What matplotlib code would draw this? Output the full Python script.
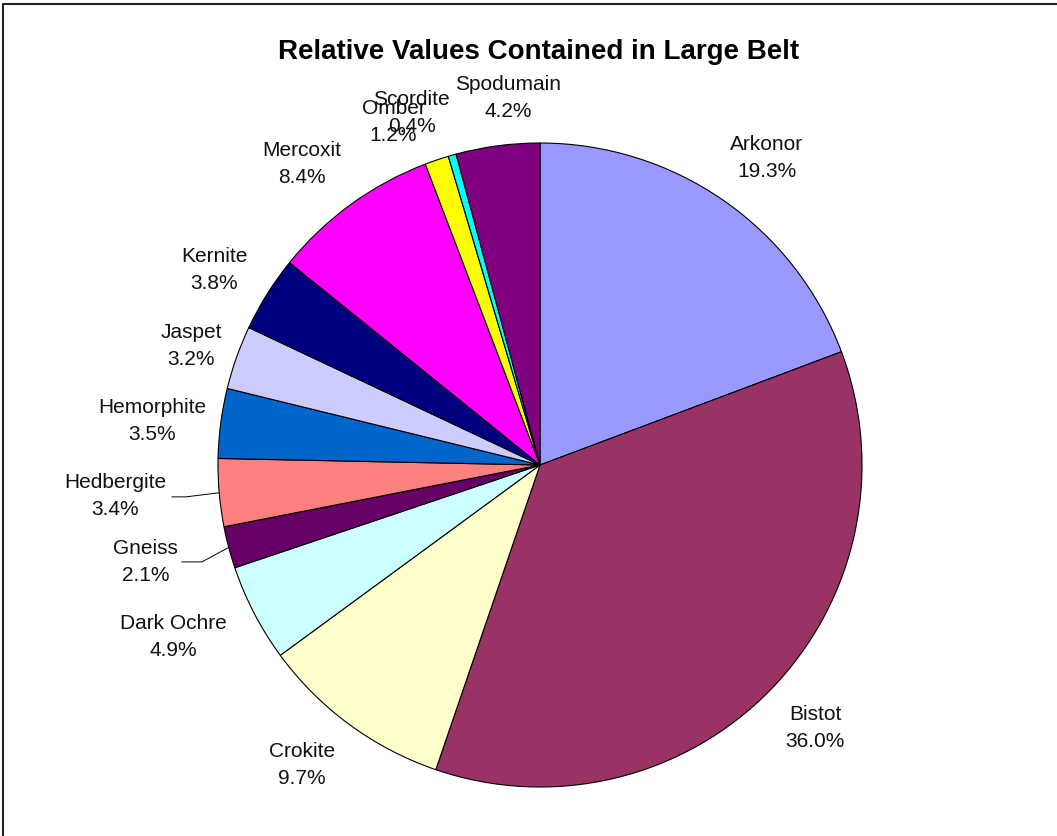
import numpy as np
import matplotlib
matplotlib.use("Agg")
import matplotlib.pyplot as plt
from matplotlib.lines import Line2D

plt.rcParams['font.family'] = ['Liberation Sans', 'DejaVu Sans']

# data
ores = ['Arkonor', 'Bistot', 'Crokite', 'Dark Ochre', 'Gneiss', 'Hedbergite',
        'Hemorphite', 'Jaspet', 'Kernite', 'Mercoxit', 'Omber', 'Scordite', 'Spodumain']
shares = [19.3, 36.0, 9.7, 4.9, 2.1, 3.4, 3.5, 3.2, 3.8, 8.4, 1.2, 0.4, 4.2]
colors = ['#9999FF', '#993366', '#FFFFCC', '#CCFFFF', '#660066', '#FF8080',
          '#0066CC', '#CCCCFF', '#000080', '#FF00FF', '#FFFF00', '#00FFFF', '#800080']

# label block centres, in units of the pie radius
label_pos = [(0.705, 0.953), (0.854, -0.817), (-0.739, -0.932), (-1.140, -0.534),
             (-1.224, -0.301), (-1.320, -0.096), (-1.205, 0.137), (-1.084, 0.370),
             (-1.012, 0.606), (-0.739, 0.935), (-0.455, 1.065), (-0.398, 1.093),
             (-0.099, 1.140)]

W, H = 1057, 836
cx, cy, R = 540, 465, 322  # pie centre and radius in pixels

fig = plt.figure(figsize=(W / 100, H / 100), dpi=100)
ax = fig.add_axes([0, 0, 1, 1])

wedges, _ = ax.pie(shares, colors=colors, startangle=90, counterclock=False,
                   wedgeprops=dict(edgecolor='black', linewidth=0.8))

for name, val, (x, y) in zip(ores, shares, label_pos):
    ax.text(x, y, f'{name}\n{val:.1f}%', ha='center', va='center',
            fontsize=15, linespacing=1.55, color='#111111')

# leader lines for the two small wedges on the left
for i, (x0, x1, y0) in {4: (-1.112, -1.050, -0.301), 5: (-1.143, -1.10, -0.099)}.items():
    w = wedges[i]
    mid = np.deg2rad((w.theta1 + w.theta2) / 2)
    ax.plot([x0, x1, np.cos(mid)], [y0, y0, np.sin(mid)], color='black', lw=0.7)

ax.set_xlim(-cx / R, (W - cx) / R)
ax.set_ylim((cy - H) / R, cy / R)
ax.set_aspect('auto')
ax.axis('off')

fig.text(539 / W, 1 - 52 / H, 'Relative Values Contained in Large Belt',
         ha='center', va='center', fontsize=20, fontweight='bold')

# chart frame (top and left edges visible)
fx, fy = 3 / W, 1 - 4 / H
fig.add_artist(Line2D([fx, fx, 1.01], [-0.01, fy, fy], color='#222222', lw=1.5,
                      transform=fig.transFigure))

fig.savefig('out.png', dpi=100)
